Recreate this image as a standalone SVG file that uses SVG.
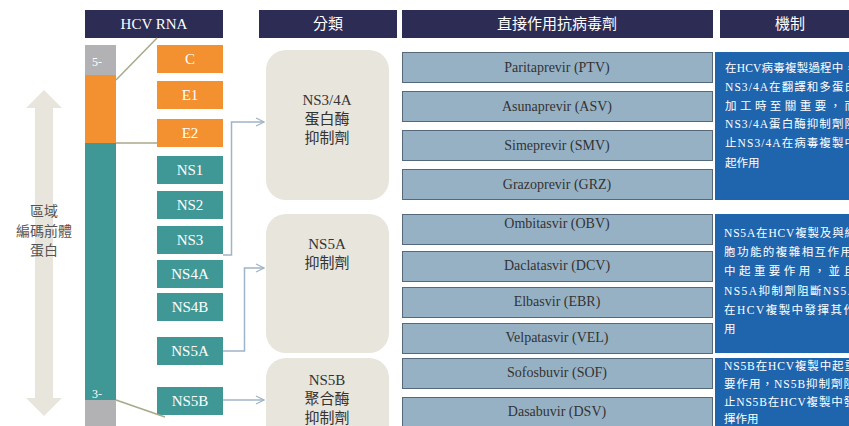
<svg xmlns="http://www.w3.org/2000/svg" width="849" height="426" viewBox="0 0 849 426">
<style>
.hdr{fill:#2c2c54}
.ht{fill:#fff;font-size:15px;font-family:"Liberation Serif","Noto Sans CJK TC",serif;text-anchor:middle}
.or{fill:#f39130}
.tl{fill:#3f9896}
.gt{fill:#fff;font-size:15px;font-family:"Liberation Serif",serif;text-anchor:middle}
.cat{fill:#e7e5dc}
.ct{fill:#333;font-size:15px;font-family:"Liberation Serif","Noto Sans CJK TC",serif;text-anchor:middle}
.drug{fill:#97b1c4;stroke:#55697b;stroke-width:1}
.dt{fill:#333;font-size:14px;font-family:"Liberation Serif",serif;text-anchor:middle}
.mech{fill:#1f65ae}
.mt{fill:#fff;font-size:11.5px;font-family:"Liberation Serif","Noto Sans CJK TC",serif}
.conn{fill:none;stroke:#9fb4c8;stroke-width:1.5}
.olive{fill:none;stroke:#a8a88a;stroke-width:1.5}
</style>
<defs>
<marker id="chev" viewBox="0 0 10 10" refX="9" refY="5" markerWidth="10" markerHeight="10" markerUnits="userSpaceOnUse" orient="auto">
<path d="M1,1 L9,5 L1,9" fill="none" stroke="#9fb4c8" stroke-width="1.3"/>
</marker>
</defs>
<rect width="849" height="426" fill="#fff"/>

<!-- headers -->
<g id="header-hcv"><rect class="hdr" x="85" y="10" width="138" height="28"/><text class="ht" x="154" y="29">HCV RNA</text></g>
<g id="header-cat"><rect class="hdr" x="259" y="10" width="138" height="28"/><text class="ht" x="328" y="29">分類</text></g>
<g id="header-drug"><rect class="hdr" x="402" y="10" width="311" height="28"/><text class="ht" x="557" y="29">直接作用抗病毒劑</text></g>
<g id="header-mech"><rect class="hdr" x="720" y="10" width="140" height="28"/><text class="ht" x="790" y="29">機制</text></g>

<!-- left double arrow -->
<g id="region-arrow">
<polygon points="44,90 62,108 53,108 53,398 62,398 44,416 26,398 35,398 35,108 26,108" fill="#e7e5dc"/>
<g fill="#555" font-size="14" font-family="'Noto Sans CJK TC',sans-serif" text-anchor="middle">
<text x="44" y="216">區域</text>
<text x="44" y="236">編碼前體</text>
<text x="44" y="255">蛋白</text>
</g>
</g>

<!-- RNA bar -->
<g id="rna-bar">
<rect x="85" y="45" width="31" height="30" fill="#b2b2b5"/>
<rect x="85" y="75" width="31" height="68" class="or"/>
<rect x="85" y="143" width="31" height="257" class="tl"/>
<rect x="85" y="400" width="31" height="26" fill="#b2b2b5"/>
<text x="97" y="66" fill="#fff" font-size="12" font-family="'Liberation Serif',serif" text-anchor="middle">5-</text>
<text x="97" y="398" fill="#fff" font-size="12" font-family="'Liberation Serif',serif" text-anchor="middle">3-</text>
</g>

<!-- genes -->
<g id="gene-C"><rect class="or" x="157" y="45" width="66" height="28"/><text class="gt" x="190" y="64">C</text></g>
<g id="gene-E1"><rect class="or" x="157" y="81" width="66" height="28"/><text class="gt" x="190" y="100">E1</text></g>
<g id="gene-E2"><rect class="or" x="157" y="119" width="66" height="28"/><text class="gt" x="190" y="138">E2</text></g>
<g id="gene-NS1"><rect class="tl" x="157" y="156" width="66" height="28"/><text class="gt" x="190" y="175">NS1</text></g>
<g id="gene-NS2"><rect class="tl" x="157" y="191" width="66" height="28"/><text class="gt" x="190" y="210">NS2</text></g>
<g id="gene-NS3"><rect class="tl" x="157" y="226" width="66" height="28"/><text class="gt" x="190" y="245">NS3</text></g>
<g id="gene-NS4A"><rect class="tl" x="157" y="260" width="66" height="28"/><text class="gt" x="190" y="279">NS4A</text></g>
<g id="gene-NS4B"><rect class="tl" x="157" y="293" width="66" height="28"/><text class="gt" x="190" y="312">NS4B</text></g>
<g id="gene-NS5A"><rect class="tl" x="157" y="337" width="66" height="28"/><text class="gt" x="190" y="356">NS5A</text></g>
<g id="gene-NS5B"><rect class="tl" x="157" y="387" width="66" height="28"/><text class="gt" x="190" y="406">NS5B</text></g>

<!-- connectors -->
<g id="connectors">
<path class="olive" d="M157,38 L116,80"/>
<path class="olive" d="M116,143 L157,143"/>
<path class="olive" d="M116,400 L165,417"/>
<path class="conn" d="M223,255 L231.5,255 L231.5,122 L264,122" marker-end="url(#chev)"/>
<path class="conn" d="M223,351 L244.5,351 L244.5,268 L264,268" marker-end="url(#chev)"/>
<path class="conn" d="M223,400 L264,400" marker-end="url(#chev)"/>
</g>

<!-- categories -->
<g id="cat-ns34a"><rect class="cat" x="266" y="50" width="123" height="150" rx="20"/>
<text class="ct" x="327" y="105">NS3/4A</text><text class="ct" x="327" y="124">蛋白酶</text><text class="ct" x="327" y="143">抑制劑</text></g>
<g id="cat-ns5a"><rect class="cat" x="266" y="214" width="123" height="139" rx="20"/>
<text class="ct" x="327" y="249">NS5A</text><text class="ct" x="327" y="268">抑制劑</text></g>
<g id="cat-ns5b"><rect class="cat" x="266" y="358" width="123" height="90" rx="20"/>
<text class="ct" x="327" y="385">NS5B</text><text class="ct" x="327" y="404">聚合酶</text><text class="ct" x="327" y="423">抑制劑</text></g>

<!-- drugs -->
<g id="drug-ptv"><rect class="drug" x="402.5" y="52.5" width="310" height="30"/><text class="dt" x="557" y="72">Paritaprevir (PTV)</text></g>
<g id="drug-asv"><rect class="drug" x="402.5" y="91.5" width="310" height="30"/><text class="dt" x="557" y="111">Asunaprevir (ASV)</text></g>
<g id="drug-smv"><rect class="drug" x="402.5" y="130.5" width="310" height="30"/><text class="dt" x="557" y="150">Simeprevir (SMV)</text></g>
<g id="drug-grz"><rect class="drug" x="402.5" y="169.5" width="310" height="30"/><text class="dt" x="557" y="189">Grazoprevir (GRZ)</text></g>
<g id="drug-obv"><rect class="drug" x="402.5" y="214.5" width="310" height="30"/><text class="dt" x="557" y="228">Ombitasvir (OBV)</text></g>
<g id="drug-dcv"><rect class="drug" x="402.5" y="251.5" width="310" height="30"/><text class="dt" x="557" y="270">Daclatasvir (DCV)</text></g>
<g id="drug-ebr"><rect class="drug" x="402.5" y="287.5" width="310" height="30"/><text class="dt" x="557" y="306">Elbasvir (EBR)</text></g>
<g id="drug-vel"><rect class="drug" x="402.5" y="323.5" width="310" height="30"/><text class="dt" x="557" y="342">Velpatasvir (VEL)</text></g>
<g id="drug-sof"><rect class="drug" x="402.5" y="358.5" width="310" height="30"/><text class="dt" x="557" y="377">Sofosbuvir (SOF)</text></g>
<g id="drug-dsv"><rect class="drug" x="402.5" y="397.5" width="310" height="40"/><text class="dt" x="557" y="416">Dasabuvir (DSV)</text></g>

<!-- mechanisms -->
<g id="mech-ns34a"><rect class="mech" x="715" y="52" width="150" height="148"/>
<text class="mt" x="725" y="72" textLength="130" lengthAdjust="spacing">在HCV病毒複製過程中，</text>
<text class="mt" x="725" y="91" textLength="131" lengthAdjust="spacing">NS3/4A在翻譯和多蛋白</text>
<text class="mt" x="725" y="110" textLength="131" lengthAdjust="spacing">加工時至關重要，而</text>
<text class="mt" x="725" y="128" textLength="131" lengthAdjust="spacing">NS3/4A蛋白酶抑制劑阻</text>
<text class="mt" x="725" y="147" textLength="131" lengthAdjust="spacing">止NS3/4A在病毒複製中</text>
<text class="mt" x="725" y="167">起作用</text>
</g>
<g id="mech-ns5a"><rect class="mech" x="715" y="214" width="150" height="139"/>
<text class="mt" x="724" y="237" textLength="132" lengthAdjust="spacing">NS5A在HCV複製及與細</text>
<text class="mt" x="724" y="256" textLength="128" lengthAdjust="spacing">胞功能的複雜相互作用</text>
<text class="mt" x="724" y="275" textLength="131" lengthAdjust="spacing">中起重要作用，並且</text>
<text class="mt" x="724" y="295" textLength="132" lengthAdjust="spacing">NS5A抑制劑阻斷NS5A</text>
<text class="mt" x="724" y="314" textLength="131" lengthAdjust="spacing">在HCV複製中發揮其作</text>
<text class="mt" x="724" y="333">用</text>
</g>
<g id="mech-ns5b"><rect class="mech" x="715" y="358" width="150" height="90"/>
<text class="mt" x="724" y="370" textLength="132" lengthAdjust="spacing">NS5B在HCV複製中起重</text>
<text class="mt" x="724" y="388" textLength="131" lengthAdjust="spacing">要作用，NS5B抑制劑阻</text>
<text class="mt" x="724" y="406" textLength="131" lengthAdjust="spacing">止NS5B在HCV複製中發</text>
<text class="mt" x="724" y="423">揮作用</text>
</g>
</svg>
